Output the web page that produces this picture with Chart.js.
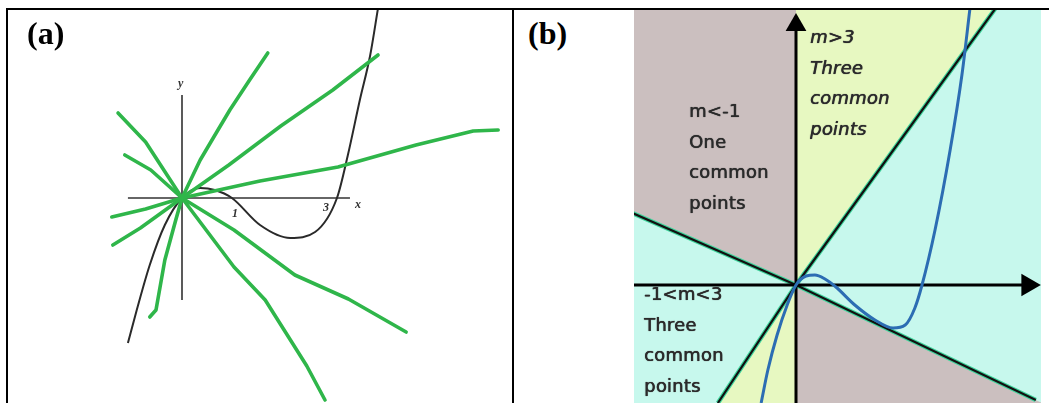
<!DOCTYPE html>
<html>
<head>
<meta charset="utf-8">
<title>Cubic and lines through the origin</title>
<script src="https://cdn.jsdelivr.net/npm/chart.js@4/dist/chart.umd.min.js"></script>
<style>
    body { margin: 0; background: #fff; }
    #page { position: relative; width: 1049px; height: 403px; overflow: hidden; background: #fff; }
    .rule { position: absolute; background: #000; }
    canvas { position: absolute; }
    .tag { position: absolute; font: bold 32px "Liberation Serif", serif; color: #000; line-height: 32px; }
    .axl { position: absolute; font: italic bold 12px "Liberation Serif", serif; color: #333; line-height: 12px; }
    .note { position: absolute; font: 18px "DejaVu Sans", sans-serif; color: #2a2a2a; line-height: 30.5px; white-space: nowrap; text-shadow: 0.5px 0 0 #3a3a3a, 0 0 1px #444; letter-spacing: 0.2px; }
    .note.it { font-style: italic; }
</style>
</head>
<body>
<div id="page">
    <div class="rule" style="left:6px;top:8px;width:1043px;height:2px"></div>
    <div class="rule" style="left:6px;top:8px;width:2px;height:395px"></div>
    <div class="rule" style="left:512px;top:8px;width:2px;height:395px"></div>

    <canvas id="chartA" width="504" height="393" style="left:8px;top:10px"></canvas>
    <canvas id="chartB" width="407" height="393" style="left:634px;top:10px;background:#c7f8ed"></canvas>

    <div class="tag" style="left:27px;top:17px">(a)</div>
    <div class="tag" style="left:528px;top:17px">(b)</div>

    <div class="axl" style="left:178px;top:77px">y</div>
    <div class="axl" style="left:355px;top:198px">x</div>
    <div class="axl" style="left:232px;top:207px">1</div>
    <div class="axl" style="left:323px;top:201px">3</div>

    <div class="note it" style="left:810px;top:22px">m&gt;3<br>Three<br>common<br>points</div>
    <div class="note" style="left:689px;top:96px">m&lt;-1<br>One<br>common<br>points</div>
    <div class="note" style="left:644px;top:279px">-1&lt;m&lt;3<br>Three<br>common<br>points</div>
</div>

<script>
// ---------- (a) 手繪風格：三次曲線 + 穿過原點的綠色直線 ----------
const cubicA = [
    [-1.04, -7.25], [-0.87, -5.6], [-0.62, -3.35], [-0.33, -1.35], [0, 0],
    [0.35, 0.5], [0.63, 0.4], [0.96, 0], [1.5, -1.35], [2.08, -2.0],
    [2.56, -1.7], [2.98, 0], [3.19, 2.15], [3.42, 4.9], [3.62, 7.15], [3.77, 9.5]
];
const axisAX = [[-1.04, 0], [3.23, 0]];
const axisAY = [[0, 5.15], [0, -5.1]];

// 綠色線條（每條都經過原點，手繪所以有點彎）
const greenStrokes = [
    [[-0.62, -5.95], [-0.5, -5.6], [-0.33, -3.1], [-0.12, -1.1], [0, 0], [0.35, 1.9], [0.6, 3.0], [0.92, 4.4], [1.3, 5.9], [1.65, 7.25]],
    [[-1.33, -2.35], [-0.8, -1.5], [0, 0], [0.9, 1.65], [1.9, 3.6], [2.9, 5.4], [3.77, 7.15]],
    [[-1.35, -0.95], [-0.7, -0.55], [0, 0], [1.5, 0.85], [3.0, 1.55], [4.5, 2.65], [5.6, 3.35], [6.08, 3.4]],
    [[-1.23, 4.25], [-0.7, 2.8], [0, 0], [1.0, -3.45], [1.6, -5.1], [2.0, -6.75], [2.4, -8.4], [2.75, -10.1]],
    [[-1.1, 2.15], [-0.6, 1.4], [0, 0], [1.0, -1.6], [2.17, -3.85], [3.2, -5.05], [4.31, -6.7]]
];

// ---------- (b) 區域圖：y = 3x 與 y = -x ----------
const cubicB = [
    [-0.83, -5.9], [-0.67, -4.25], [-0.45, -2.5], [-0.21, -1.0], [0, 0],
    [0.24, 0.45], [0.45, 0.5], [0.69, 0.3], [0.95, -0.1], [1.4, -1.0],
    [1.88, -1.75], [2.31, -2.15], [2.6, -2.0], [2.83, -1.15], [3.0, 0],
    [3.31, 2.75], [3.67, 6.75], [3.95, 10.5], [4.14, 13.8]
];
const lineSteep = [[-1.86, -5.9], [0, 0], [4.74, 13.8]];   // m = 3
const lineTangent = [[-3.9, 3.6], [0, 0], [5.71, -5.75]];  // m = -1
const rangeA = { xMin: -3.346, xMax: 6.346, yMin: -10.25, yMax: 9.4 };
const rangeB = { xMin: -3.857, xMax: 5.833, yMin: -5.9, yMax: 13.75 };

const green = '#2fb64a';
const mauve = '#cbbfbf';
const yellow = '#e7f8c1';
const blue = '#2c6db3';

function pts(arr) {
    return arr.map(p => ({ x: p[0], y: p[1] }));
}

function lineSet(arr, color, width, order, extra) {
    return Object.assign({
        data: pts(arr),
        borderColor: color,
        borderWidth: width,
        pointRadius: 0,
        fill: false,
        tension: 0,
        order: order
    }, extra || {});
}

function baseOptions(r) {
    return {
        responsive: false,
        animation: false,
        layout: { padding: 0, autoPadding: false },
        plugins: { legend: { display: false }, tooltip: { enabled: false } },
        scales: {
            x: { type: 'linear', min: r.xMin, max: r.xMax, display: false },
            y: { type: 'linear', min: r.yMin, max: r.yMax, display: false }
        }
    };
}

// 圖 (a)
const dsA = [];
greenStrokes.forEach((s, i) => {
    dsA.push(lineSet(s, green, 3.6, 1 + i, { borderCapStyle: 'round', borderJoinStyle: 'round' }));
});
dsA.push(lineSet(cubicA, '#2a2a2a', 2, 10, { tension: 0.4, cubicInterpolationMode: 'monotone' }));
dsA.push(lineSet(axisAX, '#333', 1.6, 11));
dsA.push(lineSet(axisAY, '#333', 1.6, 12));

new Chart(document.getElementById('chartA'), {
    type: 'line',
    data: { datasets: dsA },
    options: baseOptions(rangeA)
});

// 圖 (b)：先塗區域，再畫線
const posHalf = arr => arr.filter(p => p[0] >= 0);
const negHalf = arr => arr.filter(p => p[0] <= 0);
const extend = (arr, xEdge) => {
    // 沿著讀到的斜率延伸到圖框邊緣
    const p = arr[arr.length - 1][0] === 0 ? arr[0] : arr[arr.length - 1];
    const k = p[1] / p[0];
    return [[0, 0], [xEdge, k * xEdge]];
};

const dsB = [
    // 箭頭
    { data: [{ x: 0, y: 13.0 }], showLine: false, pointStyle: 'triangle', pointRadius: 12,
      pointBackgroundColor: '#000', pointBorderColor: '#000', pointBorderWidth: 0, order: 0 },
    { data: [{ x: 5.52, y: 0 }], showLine: false, pointStyle: 'triangle', pointRotation: 90, pointRadius: 13,
      pointBackgroundColor: '#000', pointBorderColor: '#000', pointBorderWidth: 0, order: 0 },
    lineSet(cubicB, blue, 3, 1, { tension: 0.4, cubicInterpolationMode: 'monotone' }),
    lineSet([[0, rangeB.yMin], [0, 13.0]], '#000', 3, 2),
    lineSet([[rangeB.xMin, 0], [5.4, 0]], '#000', 3, 2),
    lineSet(lineSteep, '#111', 2.2, 3),
    lineSet(lineTangent, '#111', 2.2, 3),
    lineSet(lineSteep, '#3fd49c', 4.5, 4),
    lineSet(lineTangent, '#3fd49c', 4.5, 4),
    // 區域
    lineSet(extend(posHalf(lineSteep), rangeB.xMax), 'rgba(0,0,0,0)', 0, 20, { fill: 'end', backgroundColor: yellow }),
    lineSet(extend(negHalf(lineSteep).reverse(), rangeB.xMin), 'rgba(0,0,0,0)', 0, 20, { fill: 'start', backgroundColor: yellow }),
    lineSet(extend(negHalf(lineTangent).reverse(), rangeB.xMin), 'rgba(0,0,0,0)', 0, 20, { fill: 'end', backgroundColor: mauve }),
    lineSet(extend(posHalf(lineTangent), rangeB.xMax), 'rgba(0,0,0,0)', 0, 20, { fill: 'start', backgroundColor: mauve })
];
// 區域資料要按 x 排序
dsB.forEach(d => d.data.sort((a, b) => a.x - b.x));

new Chart(document.getElementById('chartB'), {
    type: 'line',
    data: { datasets: dsB },
    options: baseOptions(rangeB)
});
</script>
</body>
</html>
